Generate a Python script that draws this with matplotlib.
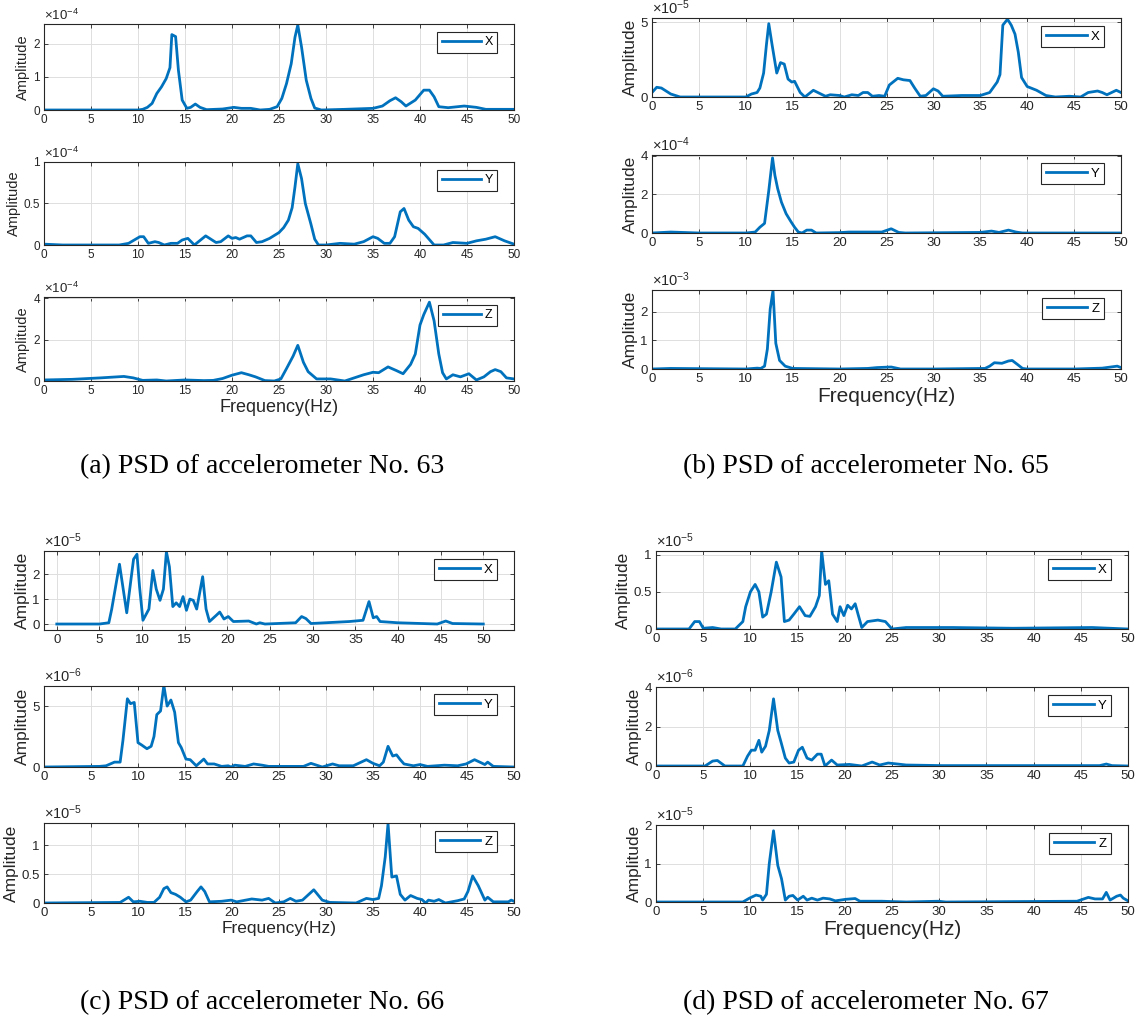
import matplotlib
matplotlib.use('Agg')
import matplotlib.pyplot as plt
from matplotlib.ticker import FuncFormatter, FixedLocator

plt.rcParams['font.family'] = ['Liberation Sans', 'DejaVu Sans']
plt.rcParams['mathtext.fontset'] = 'custom'
plt.rcParams['mathtext.rm'] = 'Liberation Sans'
plt.rcParams['mathtext.it'] = 'Liberation Sans:italic'
plt.rcParams['mathtext.bf'] = 'Liberation Sans:bold'

# ---------------- data (values in units of the axis multiplier) ----------------
XTICKS = [0, 5, 10, 15, 20, 25, 30, 35, 40, 45, 50]
CAPTIONS = ["(a) PSD of accelerometer No. 63", "(b) PSD of accelerometer No. 65",
            "(c) PSD of accelerometer No. 66", "(d) PSD of accelerometer No. 67"]
LABELS = ["X", "Y", "Z"]

# accelerometer 63
A63_X_F = [0, 5, 10, 10.5, 11, 11.5, 12, 12.5, 13, 13.4, 13.6, 14.0, 14.3, 14.7, 15.2, 15.6, 16.1, 16.6, 17.3, 19,
           20.2, 21, 22, 23, 24, 24.8, 25.3, 25.8, 26.3, 26.7, 27.0, 27.4, 27.9, 28.4, 28.8, 29.5, 32, 35, 36, 36.8,
           37.4, 38.0, 38.5, 39.5, 40.4, 41.0, 41.5, 42.0, 43.0, 44.7, 46, 47, 50]
A63_X_V = [0, 0, 0, 0.02, 0.08, 0.2, 0.5, 0.7, 0.95, 1.28, 2.28, 2.22, 1.2, 0.3, 0.05, 0.08, 0.18, 0.08, 0.01, 0.03,
           0.08, 0.05, 0.05, 0.0, 0.02, 0.1, 0.35, 0.8, 1.4, 2.2, 2.57, 1.9, 0.9, 0.35, 0.06, 0.0, 0.02, 0.05, 0.12, 0.28,
           0.37, 0.25, 0.12, 0.3, 0.6, 0.6, 0.4, 0.1, 0.07, 0.12, 0.08, 0.02, 0.02]
A63_Y_F = [0, 2, 5, 8, 9, 9.6, 10.2, 10.6, 11.1, 11.8, 12.2, 12.8, 13.5, 14.2, 14.7, 15.3, 16.0, 17.2, 18.3, 18.8,
           19.6, 20.0, 20.4, 20.8, 21.6, 22.0, 22.6, 23.2, 24.0, 25.0, 25.5, 26.0, 26.4, 26.7, 27.0, 27.4, 27.8, 28.4,
           28.8, 29.2, 30, 31.5, 33, 34, 35, 35.5, 36.2, 36.8, 37.3, 37.9, 38.3, 38.8, 39.3, 39.8, 40.5, 41.5, 42.5,
           43.5, 45, 46, 47, 48, 49, 50]
A63_Y_V = [0.01, 0.0, 0.0, 0.0, 0.02, 0.06, 0.1, 0.1, 0.02, 0.04, 0.03, 0.0, 0.02, 0.02, 0.06, 0.08, 0.0, 0.11, 0.03,
           0.04, 0.11, 0.08, 0.09, 0.07, 0.11, 0.11, 0.03, 0.04, 0.08, 0.15, 0.21, 0.3, 0.45, 0.7, 0.98, 0.8, 0.5, 0.25,
           0.07, 0.0, 0.0, 0.02, 0.01, 0.04, 0.1, 0.08, 0.02, 0.02, 0.1, 0.4, 0.44, 0.3, 0.22, 0.2, 0.13, 0.0, 0.0,
           0.03, 0.02, 0.05, 0.07, 0.1, 0.05, 0.01]
A63_Z_F = [0, 3, 6, 8.5, 9.5, 10.5, 12, 13, 15, 17, 18, 19, 20, 21, 21.8, 22.5, 23.5, 24.5, 25.2, 25.8, 26.5, 27.0,
           27.6, 28.1, 29, 30.5, 32, 33, 34, 35, 35.6, 36.6, 37.5, 38.2, 39, 39.5, 40.0, 40.4, 41.0, 41.5, 42.0, 42.4,
           42.8, 43.5, 44.3, 45.2, 46, 46.8, 47.5, 48, 48.6, 49.2, 50]
A63_Z_V = [0.05, 0.08, 0.15, 0.22, 0.15, 0.03, 0.05, 0.0, 0.05, 0.02, 0.03, 0.12, 0.28, 0.4, 0.3, 0.2, 0.02, 0.0, 0.1,
           0.6, 1.2, 1.72, 0.9, 0.45, 0.1, 0.1, 0.0, 0.15, 0.3, 0.42, 0.4, 0.68, 0.5, 0.35, 0.8, 1.3, 2.7, 3.2, 3.8,
           2.9, 1.3, 0.4, 0.1, 0.3, 0.2, 0.35, 0.05, 0.2, 0.45, 0.55, 0.45, 0.15, 0.1]

# accelerometer 65
A65_X_F = [0, 0.5, 1, 2, 3, 10, 10.6, 11.2, 11.5, 11.9, 12.2, 12.45, 12.8, 13.3, 13.7, 14.1, 14.5, 14.9, 15.2, 15.8,
           16.3, 17.2, 18, 18.5, 19, 20, 20.5, 21.3, 22, 22.5, 23, 23.5, 24.2, 24.8, 25.3, 26.2, 26.8, 27.5, 28, 28.6,
           29.2, 30, 30.5, 31, 33, 35, 36, 36.8, 37.1, 37.4, 37.9, 38.3, 38.7, 39.05, 39.4, 40, 41, 42, 43, 44.5,
           45.7, 46.5, 47.5, 48, 48.5, 49.5, 50]
A65_X_V = [0.3, 0.65, 0.6, 0.2, 0, 0, 0.2, 0.3, 0.6, 1.6, 3.5, 4.9, 3.5, 1.6, 2.3, 2.2, 1.2, 1.0, 1.05, 0.3,
           0, 0.45, 0.2, 0.05, 0.15, 0.1, 0, 0.15, 0.1, 0.3, 0.3, 0.05, 0.1, 0.05, 0.8, 1.25, 1.15, 1.1, 0.6, 0.05,
           0.1, 0.55, 0.4, 0.05, 0.1, 0.1, 0.3, 1.0, 1.5, 4.8, 5.2, 4.8, 4.2, 3.0, 1.3, 0.7, 0.45, 0.1, 0, 0.05,
           0, 0.3, 0.4, 0.3, 0.15, 0.45, 0.3]
A65_Y_F = [0, 2, 5, 10, 11, 11.5, 12, 12.45, 12.85, 13.1, 13.4, 13.8, 14.3, 14.8, 15.2, 15.6, 16, 16.5, 17, 17.5,
           20, 21, 24.5, 25.5, 26.3, 27, 35, 36.2, 37, 38, 38.8, 39.5, 50]
A65_Y_V = [0, 0.05, 0, 0, 0.05, 0.3, 0.5, 2.2, 3.9, 3.0, 2.3, 1.6, 1.0, 0.6, 0.3, 0.05, 0, 0.15, 0.15, 0,
           0.02, 0.05, 0.05, 0.22, 0.03, 0, 0.03, 0.1, 0.03, 0.15, 0.05, 0, 0]
A65_Z_F = [0, 2, 10, 11.2, 11.6, 12, 12.3, 12.6, 12.9, 13.2, 13.6, 14.2, 15, 20, 23, 24, 25.5, 26.5, 30, 35.5,
           36, 36.5, 37.3, 38, 38.4, 39, 39.5, 40, 45, 48, 49.6, 50]
A65_Z_V = [0, 0.02, 0, 0.03, 0.02, 0.1, 0.7, 2.1, 2.75, 0.9, 0.3, 0.1, 0.02, 0, 0.02, 0.05, 0.07, 0, 0, 0.02,
           0.1, 0.22, 0.2, 0.28, 0.3, 0.15, 0.02, 0, 0, 0.03, 0.1, 0.05]

# accelerometer 66
A66_X_F = [0, 5, 6.1, 6.44, 7.35, 8.2, 8.7, 9.0, 9.4, 9.7, 10.1, 10.8, 11.26, 11.66, 12.1, 12.5, 12.85, 13.2, 13.6,
           14.0, 14.4, 14.8, 15.2, 15.6, 16.0, 16.4, 17.1, 17.5, 17.9, 18.7, 19.1, 19.6, 20.1, 20.7, 22.5, 23.4, 23.8,
           24.4, 28, 28.7, 29.2, 29.8, 34.3, 35.9, 36.6, 37.1, 37.5, 37.9, 40, 44.6, 45.6, 46.4, 50]
A66_X_V = [0, 0, 0.05, 0.6, 2.4, 0.45, 1.8, 2.6, 2.8, 1.5, 0.15, 0.6, 2.15, 1.4, 0.95, 1.4, 2.9, 2.3, 0.7,
           0.85, 0.7, 1.1, 0.55, 1.0, 0.95, 0.6, 1.9, 0.6, 0.1, 0.35, 0.48, 0.2, 0.3, 0.1, 0.12, 0, 0.05,
           0, 0.05, 0.3, 0.22, 0.02, 0.1, 0.15, 0.9, 0.25, 0.3, 0.1, 0.05, 0, 0.12, 0.02, 0]
A66_Y_F = [0, 5.9, 6.6, 7.5, 8.1, 8.4, 8.87, 9.2, 9.6, 10, 10.4, 10.95, 11.4, 11.7, 12, 12.4, 12.75, 13.1, 13.5, 13.9,
           14.3, 14.6, 15.1, 15.55, 16.2, 17, 17.4, 18.1, 18.9, 19.6, 19.9, 20.3, 21.4, 22.3, 23.2, 23.9, 27.6, 28.4,
           29.6, 30.7, 31.4, 32.9, 34.3, 35, 35.7, 36.1, 36.6, 37.1, 37.5, 37.9, 38.3, 39.3, 40, 40.8, 42.6, 44, 44.9,
           45.8, 46.5, 46.9, 47.2, 47.8, 50]
A66_Y_V = [0, 0.05, 0.1, 0.4, 0.4, 2.2, 5.6, 5.2, 5.3, 2.0, 1.8, 1.5, 1.7, 2.5, 4.3, 4.6, 6.7, 5.0, 5.5, 4.5,
           2.0, 1.6, 0.65, 0.6, 0.1, 0.65, 0.25, 0.25, 0.05, 0.1, 0, 0.15, 0.05, 0.25, 0.15, 0.05, 0.05, 0.3,
           0, 0.25, 0.1, 0.1, 0.6, 0.3, 0.1, 0.4, 1.7, 0.9, 1.0, 0.6, 0.25, 0.1, 0.2, 0.05, 0.15, 0.1, 0.25,
           0.6, 0.35, 0.2, 0.4, 0.05, 0]
A66_Z_F = [0, 8.1, 9, 9.5, 10.2, 11, 11.7, 12.3, 12.75, 13.1, 13.5, 14, 14.5, 15.1, 15.6, 16.3, 16.7, 17.1, 17.6, 18.9,
           19.9, 20.5, 22.1, 23.2, 23.9, 24.6, 25.5, 26.2, 26.8, 27.5, 28.7, 29.6, 30.4, 33.2, 34.3, 35, 35.6, 35.9,
           36.3, 36.6, 37, 37.5, 37.9, 38.4, 39, 39.7, 40.2, 40.6, 40.9, 41.5, 42, 42.7, 44, 44.7, 45.1, 45.6, 46.2,
           46.9, 47.2, 47.8, 49.4, 49.7, 50]
A66_Z_V = [0, 0.01, 0.1, 0.02, 0.03, 0.01, 0.01, 0.1, 0.25, 0.28, 0.18, 0.15, 0.1, 0.02, 0.05, 0.2, 0.28, 0.2, 0.02,
           0.03, 0.05, 0.02, 0.07, 0.05, 0.08, 0, 0.02, 0.08, 0.03, 0.05, 0.23, 0.05, 0.01, 0, 0.08, 0.06, 0.08, 0.3,
           0.8, 1.38, 0.45, 0.47, 0.15, 0.05, 0.13, 0.08, 0.06, 0, 0.05, 0.03, 0.06, 0, 0.04, 0.07, 0.2, 0.47, 0.3,
           0.05, 0.1, 0.02, 0.02, 0.05, 0.03]

# accelerometer 67
A67_X_F = [0, 3.5, 4.1, 4.6, 5, 6, 6.9, 8.4, 9.2, 9.5, 10, 10.5, 10.9, 11.3, 11.7, 12.2, 12.75, 13.25, 13.6, 14.1,
           14.6, 15.2, 15.8, 16.3, 16.9, 17.3, 17.55, 17.95, 18.3, 18.7, 19.2, 19.5, 19.9, 20.3, 20.7, 21.1, 21.4,
           21.8, 22.4, 23.5, 24.3, 25, 26.5, 29.9, 31.4, 37.8, 46.2, 50]
A67_X_V = [0, 0, 0.1, 0.1, 0.01, 0.02, 0, 0, 0.1, 0.3, 0.5, 0.6, 0.5, 0.16, 0.2, 0.5, 0.9, 0.7, 0.1, 0.12,
           0.2, 0.3, 0.18, 0.17, 0.3, 0.45, 1.05, 0.6, 0.65, 0.2, 0.1, 0.3, 0.18, 0.32, 0.27, 0.34, 0.2,
           0.02, 0.1, 0.12, 0.1, 0, 0.02, 0.02, 0.02, 0.01, 0.02, 0]
A67_Y_F = [0, 5.2, 6, 6.5, 7.3, 9.2, 9.7, 10.1, 10.5, 10.9, 11.2, 11.6, 12, 12.45, 12.9, 13.25, 13.7, 14.1, 14.6, 15.1,
           15.5, 16, 16.5, 17.1, 17.5, 17.9, 18.6, 19.2, 20.5, 21.8, 22.9, 23.7, 24.6, 25.6, 26.5, 30.3, 47, 47.7,
           48.3, 50]
A67_Y_V = [0, 0, 0.25, 0.28, 0, 0, 0.5, 0.8, 0.8, 1.3, 0.7, 1.0, 1.8, 3.4, 1.8, 1.2, 0.4, 0.15, 0.2, 0.8,
           0.95, 0.4, 0.3, 0.6, 0.6, 0, 0.3, 0.05, 0.08, 0, 0.2, 0.05, 0.15, 0.1, 0.05, 0.02, 0.02, 0.1,
           0.02, 0]
A67_Z_F = [0, 9.2, 9.9, 10.6, 11.1, 11.3, 11.7, 12, 12.45, 12.9, 13.3, 13.7, 14.1, 14.5, 15, 15.6, 16, 16.5, 17.1,
           17.7, 18.4, 19, 20.1, 21.1, 21.6, 23.9, 26.5, 29.9, 30.7, 44.6, 45.8, 46.5, 47.3, 47.7, 48.1, 48.8, 49.2,
           49.5, 50]
A67_Z_V = [0, 0, 0.1, 0.18, 0.15, 0.05, 0.2, 1.0, 1.85, 0.95, 0.6, 0.05, 0.15, 0.17, 0.05, 0.15, 0.05, 0.1, 0.05,
           0.1, 0.08, 0.03, 0.07, 0.09, 0.02, 0.02, 0, 0.02, 0, 0.02, 0.12, 0.08, 0.08, 0.25, 0.05, 0.15, 0.18,
           0.1, 0.03]

# axis multipliers (powers of ten) and y tick values (in multiplier units)
EXPONENTS = [[-4, -4, -4], [-5, -4, -3], [-5, -6, -5], [-5, -6, -5]]
YTICKS = [[[0, 1, 2], [0, 0.5, 1], [0, 2, 4]],
          [[0, 5], [0, 2, 4], [0, 1, 2]],
          [[0, 1, 2], [0, 5], [0, 0.5, 1]],
          [[0, 0.5, 1], [0, 2, 4], [0, 1, 2]]]
SERIES = [[(A63_X_F, A63_X_V), (A63_Y_F, A63_Y_V), (A63_Z_F, A63_Z_V)],
          [(A65_X_F, A65_X_V), (A65_Y_F, A65_Y_V), (A65_Z_F, A65_Z_V)],
          [(A66_X_F, A66_X_V), (A66_Y_F, A66_Y_V), (A66_Z_F, A66_Z_V)],
          [(A67_X_F, A67_X_V), (A67_Y_F, A67_Y_V), (A67_Z_F, A67_Z_V)]]

# ---------------- layout / style ----------------
W, H = 1147, 1022
fig = plt.figure(figsize=(W / 100, H / 100), dpi=100)

LINE_COLOR = '#0072BD'
AX_COLOR = '#262626'

PANELS = [
    dict(lr=(44, 514), rows=[(24, 110), (162, 245), (297, 381)],
         ylims=[(0, 2.6), (0, 1.0), (0, 4.05)], xlim=(0, 50),
         tick_fs=8.5, ylab_fs=10.5, xlab_fs=13, leg_fs=9, exp_fs=9.5, cap=(262, 467)),
    dict(lr=(652, 1121), rows=[(18, 97), (155, 233), (290, 369)],
         ylims=[(0, 5.28), (0, 4.05), (0, 2.77)], xlim=(0, 50),
         tick_fs=9.5, ylab_fs=12.5, xlab_fs=15, leg_fs=9.5, exp_fs=10.5, cap=(866, 467)),
    dict(lr=(44, 514), rows=[(551, 630), (686, 767), (823, 903)],
         ylims=[(-0.24, 2.93), (0, 6.65), (0, 1.39)], xlim=None,
         tick_fs=9.5, ylab_fs=12.5, xlab_fs=12.5, leg_fs=9.5, exp_fs=10.5, cap=(262, 1003)),
    dict(lr=(656, 1128), rows=[(551, 629), (687, 766), (825, 902)],
         ylims=[(0, 1.05), (0, 4.0), (0, 2.0)], xlim=(0, 50),
         tick_fs=9.5, ylab_fs=12.5, xlab_fs=15, leg_fs=9.5, exp_fs=10.5, cap=(866, 1003)),
]
C_XLIMS = [(-1.5, 53.6), (0, 50), (0, 50)]


def add_ax(l, r, t, b):
    return fig.add_axes([l / W, 1 - b / H, (r - l) / W, (b - t) / H])


for p, cfg in enumerate(PANELS):
    l, r = cfg['lr']
    for k in range(3):
        t, b = cfg['rows'][k]
        ax = add_ax(l, r, t, b)
        e = EXPONENTS[p][k]
        scale = 10.0 ** e
        fx, fy = SERIES[p][k]
        ax.plot(fx, [v * scale for v in fy], color=LINE_COLOR, lw=2.0, label=LABELS[k],
                solid_joinstyle='round')
        xl = cfg['xlim'] if cfg['xlim'] is not None else C_XLIMS[k]
        ax.set_xlim(*xl)
        y0, y1 = cfg['ylims'][k]
        ax.set_ylim(y0 * scale, y1 * scale)
        ax.xaxis.set_major_locator(FixedLocator(XTICKS))
        ax.yaxis.set_major_locator(FixedLocator([v * scale for v in YTICKS[p][k]]))
        ax.yaxis.set_major_formatter(FuncFormatter(lambda v, pos, s=scale: '%g' % round(v / s, 6)))
        ax.xaxis.set_major_formatter(FuncFormatter(lambda v, pos: '%g' % v))
        ax.tick_params(direction='in', top=True, right=True, length=3, width=0.6,
                       colors=AX_COLOR, labelsize=cfg['tick_fs'], pad=3)
        for sp in ax.spines.values():
            sp.set_color(AX_COLOR)
            sp.set_linewidth(0.8)
        ax.grid(True, color='#dedede', lw=0.7)
        ax.set_axisbelow(True)
        ax.set_ylabel('Amplitude', fontsize=cfg['ylab_fs'], color=AX_COLOR, labelpad=2)
        if k == 2:
            ax.set_xlabel('Frequency(Hz)', fontsize=cfg['xlab_fs'], color=AX_COLOR, labelpad=1)
        ax.annotate(r'$\times\mathregular{10^{%d}}$' % e, xy=(0, 1), xycoords='axes fraction',
                    xytext=(0, 0.5), textcoords='offset points', ha='left', va='bottom',
                    fontsize=cfg['exp_fs'], color=AX_COLOR)
        axw = r - l
        axh = b - t
        leg = ax.legend(loc='upper right', bbox_to_anchor=(1 - 17 / axw, 1 - 8 / axh),
                        borderaxespad=0, fontsize=cfg['leg_fs'], handlelength=3.1,
                        handletextpad=0.3, borderpad=0.35, fancybox=False, framealpha=1,
                        edgecolor=AX_COLOR)
        leg.get_frame().set_linewidth(0.8)
    fig.text(cfg['cap'][0] / W, 1 - cfg['cap'][1] / H, CAPTIONS[p], ha='center', va='center',
             family=['Liberation Serif', 'DejaVu Serif'], fontsize=20)

fig.savefig('out.png', dpi=100)
